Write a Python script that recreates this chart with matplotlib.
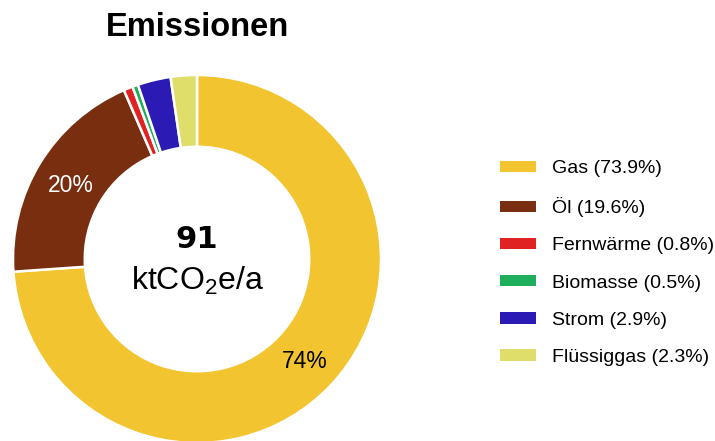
import matplotlib
matplotlib.use("Agg")
import matplotlib.pyplot as plt
from matplotlib.patches import Patch

categories = ["Gas", "Öl", "Fernwärme", "Biomasse", "Strom", "Flüssiggas"]
values = [73.9, 19.6, 0.8, 0.5, 2.9, 2.3]
colors = ["#F2C42F", "#782E0F", "#E02222", "#1FAE5C", "#2C1AB4", "#E0DE6B"]
total_label = "91"
unit_label = r"ktCO$_2$e/a"

plt.rcParams['font.family'] = ['Liberation Sans', 'DejaVu Sans']
plt.rcParams['mathtext.fontset'] = 'custom'
plt.rcParams['mathtext.rm'] = 'Liberation Sans'
plt.rcParams['mathtext.it'] = 'Liberation Sans'

W, H = 715, 441
fig = plt.figure(figsize=(W / 100, H / 100), dpi=100)
ax = fig.add_axes([0, 0, 1, 1])

cx, cy, R = 197, H - 259, 184
wedges, _ = ax.pie(values, colors=colors, startangle=90, counterclock=False,
                   center=(cx, cy), radius=R, frame=True,
                   wedgeprops=dict(width=R * 0.39, edgecolor='white', linewidth=1.8))
ax.set_xlim(0, W)
ax.set_ylim(0, H)
ax.set_aspect('equal')
ax.axis('off')

# percentage labels
ax.text(71, H - 185, f"{round(values[1])}%", color='white', fontsize=16.5,
        ha='center', va='center')
ax.text(305, H - 361, f"{round(values[0])}%", color='black', fontsize=16.5,
        ha='center', va='center')

# center text
ax.text(cx, H - 240, total_label, fontsize=22, fontweight='bold',
        family='DejaVu Sans', ha='center', va='center')
ax.text(cx, H - 281, unit_label, fontsize=23, ha='center', va='center')

# title
fig.text(198 / W, 1 - 27 / H, "Emissionen", fontsize=23.5, fontweight='bold',
         ha='center', va='center')

handles = [Patch(facecolor=c, edgecolor='none') for c in colors]
labels = [f"{n} ({v:.1f}%)" for n, v in zip(categories, values)]
fig.legend(handles, labels, loc='center left', bbox_to_anchor=(500 / W, 1 - 263 / H),
           frameon=False, fontsize=14, handlelength=1.85, handleheight=0.55,
           handletextpad=0.85, labelspacing=1.03, borderpad=0, borderaxespad=0)

fig.savefig("out.png", dpi=100)
